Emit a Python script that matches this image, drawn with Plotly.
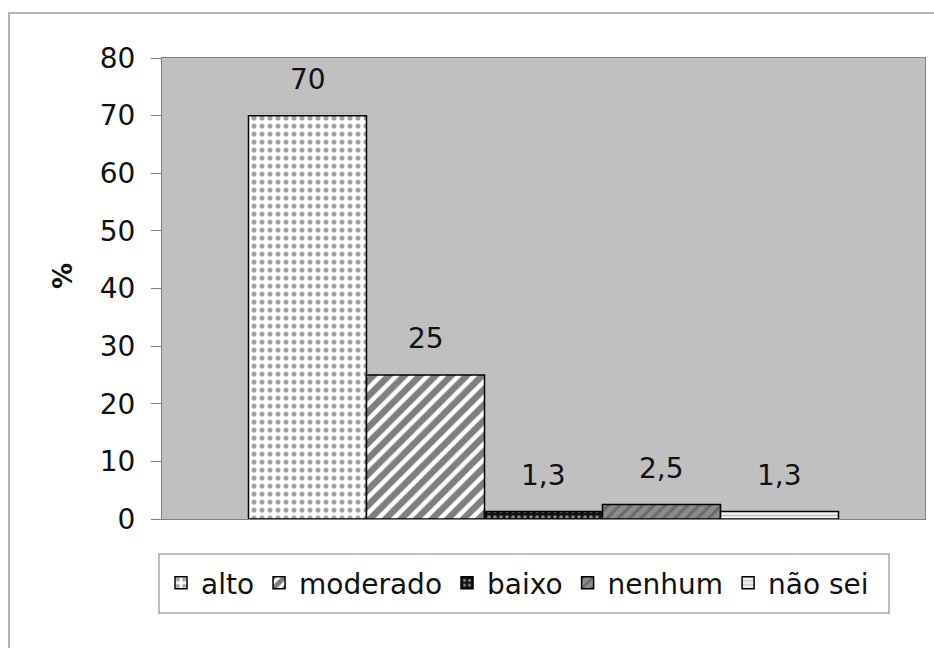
import plotly.graph_objects as go

# Responses (%) per category
categories = ["alto", "moderado", "baixo", "nenhum", "não sei"]
values = [70, 25, 1.3, 2.5, 1.3]
y_ticks = [0, 10, 20, 30, 40, 50, 60, 70, 80]

# Fill patterns per category (monochrome hatch style)
patterns = [
    dict(shape=".", fgcolor="#444444", bgcolor="white", size=8, solidity=0.32),
    dict(shape="/", fgcolor="black", bgcolor="white", size=11, solidity=0.6),
    dict(shape=".", fgcolor="white", bgcolor="#111111", size=6, solidity=0.3),
    dict(shape="/", fgcolor="#4a4a4a", bgcolor="#8c8c8c", size=8, solidity=0.4),
    dict(shape="-", fgcolor="#8a8a8a", bgcolor="#f2f2f2", size=5, solidity=0.3),
]

FONT = "DejaVu Sans, Liberation Sans, Arial, sans-serif"
FS = 28

# plot area in pixels, used to place frame boxes in paper units
PL, PR, PT, PB = 162, 925, 58, 519


def px_x(px):
    return (px - PL) / (PR - PL)


def px_y(py):
    return (PB - py) / (PB - PT)


fig = go.Figure()
for i, (cat, val, pat) in enumerate(zip(categories, values, patterns)):
    fig.add_trace(go.Bar(
        x=[i], y=[val], name=cat, width=1,
        marker=dict(pattern=pat, color=pat["bgcolor"],
                    line=dict(color="black", width=1.5)),
        hoverinfo="skip",
    ))
    fig.add_annotation(
        x=i, y=val, xref="x", yref="y",
        text=f"{val:g}".replace(".", ","),
        showarrow=False, yanchor="middle", yshift=36,
        font=dict(family=FONT, size=FS, color="#111"),
    )

# Axis title
fig.add_annotation(
    x=px_x(63), y=px_y(276), xref="paper", yref="paper",
    xanchor="center", yanchor="middle",
    text="<b>%</b>", textangle=-90, showarrow=False,
    font=dict(family=FONT, size=26, color="#111"),
)

# Outer chart frame
fig.add_shape(
    type="rect", xref="paper", yref="paper",
    x0=px_x(9), x1=px_x(960), y0=px_y(670), y1=px_y(13),
    line=dict(color="#b4b4b4", width=2), fillcolor="rgba(0,0,0,0)",
)
# Legend box
fig.add_shape(
    type="rect", xref="paper", yref="paper",
    x0=px_x(159), x1=px_x(889), y0=px_y(613), y1=px_y(554),
    line=dict(color="#a8a8a8", width=1.5), fillcolor="white", layer="below",
)

fig.update_layout(
    width=934, height=648,
    margin=dict(l=PL, r=934 - PR, t=PT, b=648 - PB),
    paper_bgcolor="white",
    plot_bgcolor="#c0c0c0",
    barmode="overlay",
    showlegend=True,
    legend=dict(
        orientation="h", x=px_x(161), y=px_y(558), xanchor="left", yanchor="top",
        borderwidth=0, bgcolor="rgba(0,0,0,0)",
        font=dict(family=FONT, size=FS, color="#111"),
        itemwidth=30,
    ),
    font=dict(family=FONT, size=FS, color="#111"),
    xaxis=dict(range=[-1.233, 5.233], showticklabels=False, showgrid=False,
               zeroline=False, showline=True, linecolor="#808080",
               linewidth=1, mirror=True, ticks=""),
    yaxis=dict(range=[0, 80], tickvals=y_ticks, showgrid=False, zeroline=False,
               showline=True, linecolor="#808080", linewidth=1, mirror=True,
               ticks="outside", ticklen=10, tickcolor="#808080",
               ticklabelstandoff=10,
               tickfont=dict(family=FONT, size=FS, color="#111")),
)

fig.write_html("out.html")
